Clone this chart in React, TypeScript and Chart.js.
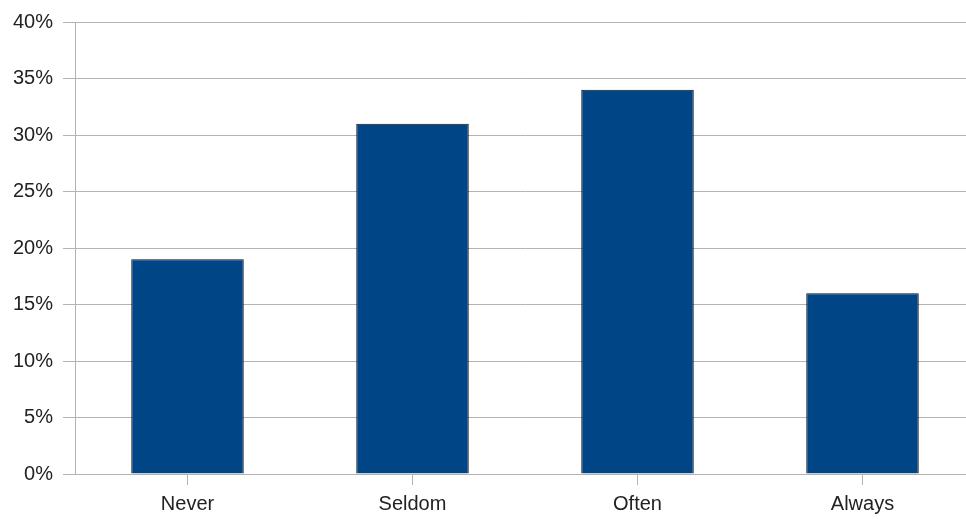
import React, { useEffect, useRef } from "react";
import { Chart, registerables } from "chart.js";

Chart.register(...registerables);

const categories = ["Never", "Seldom", "Often", "Always"];
const values = [19, 31, 34, 16];
const yTicks = [0, 5, 10, 15, 20, 25, 30, 35, 40];

export default function App() {
  const ref = useRef<HTMLCanvasElement | null>(null);

  useEffect(() => {
    if (!ref.current) return;
    const chart = new Chart(ref.current, {
      type: "bar",
      data: {
        labels: categories,
        datasets: [
          {
            data: values,
            backgroundColor: "#004586",
            borderColor: "#111",
            borderWidth: 1,
            barPercentage: 0.5,
            categoryPercentage: 1,
          },
        ],
      },
      options: {
        animation: false,
        responsive: false,
        maintainAspectRatio: false,
        layout: { padding: { top: 22, right: 0, left: 0, bottom: 0 } },
        plugins: { legend: { display: false }, tooltip: { enabled: false } },
        scales: {
          x: {
            grid: {
              offset: false,
              drawOnChartArea: false,
              drawTicks: true,
              tickLength: 11,
              color: "#b3b3b3",
            },
            border: { color: "#b3b3b3" },
            ticks: {
              padding: 7,
              color: "#222",
              font: { family: "'Liberation Sans', Arial, sans-serif", size: 20 },
            },
            afterFit: (s: any) => {
              s.height = 45;
            },
          },
          y: {
            min: 0,
            max: 40,
            afterBuildTicks: (s: any) => {
              s.ticks = yTicks.map((v) => ({ value: v }));
            },
            grid: { color: "#b3b3b3", tickLength: 12 },
            border: { color: "#b3b3b3" },
            ticks: {
              padding: 10,
              color: "#222",
              font: { family: "'Liberation Sans', Arial, sans-serif", size: 20 },
              callback: (v: any) => `${v}%`,
            },
            afterFit: (s: any) => {
              s.width = 75;
            },
          },
        },
      },
    });
    return () => chart.destroy();
  }, []);

  return (
    <div
      style={{
        position: "fixed",
        left: 0,
        top: 0,
        width: 966,
        height: 519,
        overflow: "hidden",
        background: "#fff",
      }}
    >
      <canvas ref={ref} width={975} height={519} style={{ display: "block" }} />
    </div>
  );
}
